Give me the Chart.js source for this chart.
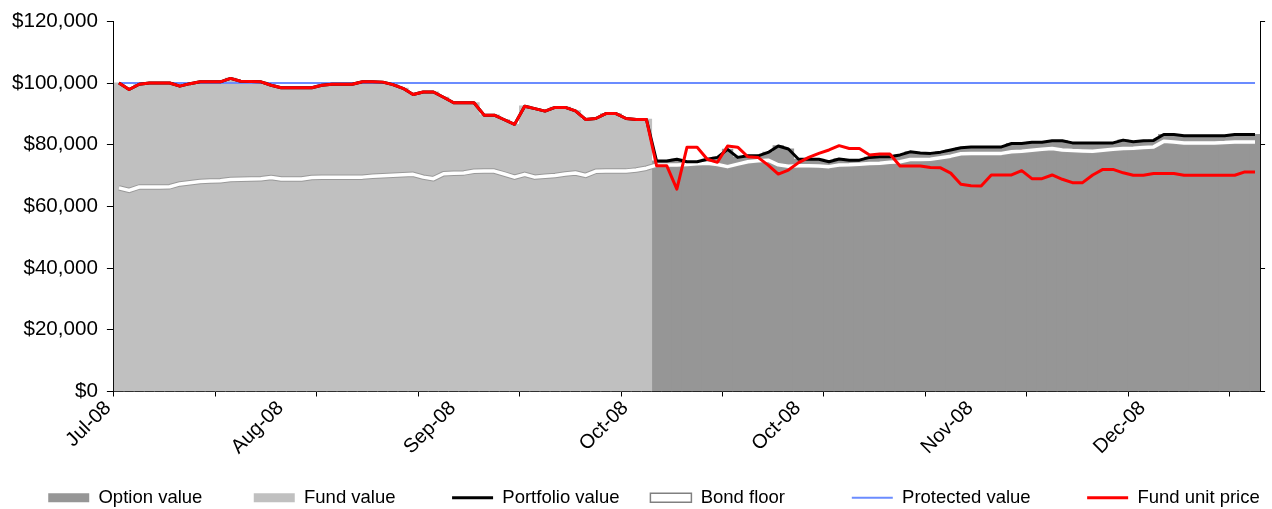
<!DOCTYPE html>
<html>
<head>
<meta charset="utf-8">
<script src="https://cdn.jsdelivr.net/npm/chart.js@4/dist/chart.umd.min.js"></script>
<style>
  html, body { margin: 0; padding: 0; background: #fff; }
  #wrap { width: 1272px; height: 509px; }
</style>
</head>
<body>
<div id="wrap"><canvas id="fundChart"></canvas></div>
<script>
// month labels shown every 17 points, tick marks every 10 points
const monthLabels = ['Jul-08', 'Aug-08', 'Sep-08', 'Oct-08', 'Oct-08', 'Nov-08', 'Dec-08'];
const labelEvery = 17;
const tickEvery = 10;

// fund held until the switch (first 53 points), option held afterwards (last 60 points)
const fundValue = [
  100000, 97900, 99600, 100000, 100000, 100000, 99000, 99800, 100400, 100400,
  100400, 101500, 100600, 100500, 100400, 99300, 98500, 98500, 98500, 98500,
  99300, 99600, 99600, 99600, 100400, 100400, 100300, 99500, 98300, 96300,
  97100, 97100, 95400, 93600, 93600, 93600, 89600, 89600, 88100, 86600,
  92500, 91700, 90900, 92100, 92100, 91000, 88200, 88500, 90100, 90100,
  88500, 88200, 88200
];
const optionValue = [
  74700, 74700, 75300, 74500, 74500, 75300, 75900, 78500, 75900, 76400,
  76400, 77500, 79600, 78600, 75300, 75300, 75300, 74500, 75400, 75000,
  75000, 75900, 76100, 76100, 76700, 77700, 77300, 77200, 77600, 78300,
  79000, 79300, 79300, 79300, 79300, 80400, 80400, 80800, 80800, 81300,
  81300, 80600, 80600, 80600, 80600, 80600, 81500, 81000, 81300, 81400,
  83300, 83300, 82900, 82900, 82900, 82900, 82900, 83300, 83300, 83300
];
const portfolioValue = [
  100000, 97900, 99600, 100000, 100000, 100000, 99000, 99800, 100400, 100400,
  100400, 101500, 100600, 100500, 100400, 99300, 98500, 98500, 98500, 98500,
  99300, 99600, 99600, 99600, 100400, 100400, 100300, 99500, 98300, 96300,
  97100, 97100, 95400, 93600, 93600, 93600, 89600, 89600, 88100, 86600,
  92500, 91700, 90900, 92100, 92100, 91000, 88200, 88500, 90100, 90100,
  88500, 88200, 88200,
  74700, 74700, 75300, 74500, 74500, 75300, 75900, 78500, 75900, 76400,
  76400, 77500, 79600, 78600, 75300, 75300, 75300, 74500, 75400, 75000,
  75000, 75900, 76100, 76100, 76700, 77700, 77300, 77200, 77600, 78300,
  79000, 79300, 79300, 79300, 79300, 80400, 80400, 80800, 80800, 81300,
  81300, 80600, 80600, 80600, 80600, 80600, 81500, 81000, 81300, 81400,
  83300, 83300, 82900, 82900, 82900, 82900, 82900, 83300, 83300, 83300
];
const bondFloor = [
  66000, 65200, 66300, 66300, 66300, 66400, 67300, 67700, 68100, 68250,
  68330, 68700, 68800, 68900, 69000, 69400, 68900, 68900, 68900, 69400,
  69500, 69500, 69500, 69500, 69500, 69800, 69950, 70100, 70250, 70400,
  69500, 69000, 70600, 70750, 70870, 71400, 71450, 71450, 70500, 69500,
  70400, 69500, 69800, 70060, 70500, 70850, 70060, 71400, 71450, 71450,
  71450, 71800, 72400,
  73400, 73400, 73400, 73600, 73800, 74000, 73600, 72900, 73700, 74500,
  74800, 75000, 73500, 73000, 73200, 73200, 73100, 72900, 73400, 73500,
  73700, 73900, 74000, 74300, 74500, 75200, 75200, 75300, 75800, 76300,
  77100, 77200, 77200, 77200, 77200, 77700, 77900, 78200, 78500, 78800,
  78300, 78100, 78000, 77900, 78200, 78500, 78800, 78900, 79100, 79300,
  81100, 80900, 80600, 80600, 80600, 80600, 80700, 80900, 80900, 80900
];
const protectedLevel = 100000;
// fund unit price, plotted on the secondary axis (0 to 1.2)
const unitPrice = [
  1.000, 0.979, 0.996, 1.000, 1.000, 1.000, 0.990, 0.998, 1.004, 1.004,
  1.004, 1.015, 1.006, 1.005, 1.004, 0.993, 0.985, 0.985, 0.985, 0.985,
  0.993, 0.996, 0.996, 0.996, 1.004, 1.004, 1.003, 0.995, 0.983, 0.963,
  0.971, 0.971, 0.954, 0.936, 0.936, 0.936, 0.896, 0.896, 0.881, 0.866,
  0.925, 0.917, 0.909, 0.921, 0.921, 0.910, 0.882, 0.885, 0.901, 0.901,
  0.885, 0.882, 0.882,
  0.732, 0.732, 0.656, 0.792, 0.792, 0.753, 0.743, 0.796, 0.792, 0.761,
  0.759, 0.734, 0.705, 0.718, 0.742, 0.759, 0.772, 0.783, 0.797, 0.788,
  0.788, 0.767, 0.770, 0.770, 0.731, 0.731, 0.731, 0.726, 0.725, 0.708,
  0.672, 0.667, 0.666, 0.702, 0.702, 0.702, 0.716, 0.690, 0.690, 0.702,
  0.688, 0.677, 0.677, 0.702, 0.720, 0.720, 0.709, 0.701, 0.701, 0.707,
  0.707, 0.707, 0.701, 0.701, 0.701, 0.701, 0.701, 0.701, 0.712, 0.712
];

const categories = portfolioValue.map((v, i) => i % labelEvery === 0 ? monthLabels[i / labelEvery] : '');
const fundSeries = fundValue.concat(optionValue.map(() => null));
const optionSeries = fundValue.map(() => null).concat(optionValue);
const protectedSeries = portfolioValue.map(() => protectedLevel);

Chart.defaults.font.family = '"Liberation Sans", Arial, sans-serif';
Chart.defaults.color = '#000';

// spaces after each legend text, to open the gaps between entries
const legendGaps = { 'Option value': 10, 'Fund value': 11, 'Portfolio value': 6, 'Bond floor': 13, 'Protected value': 11, 'Fund unit price': 0 };

// the legend in the picture sits a little right of centre
const legendShift = {
  id: 'legendShift',
  afterLayout(chart) {
    chart.legend.left += 15;
    chart.legend.right += 15;
  }
};

const ctx = document.getElementById('fundChart').getContext('2d');
const fundChart = new Chart(ctx, {
  type: 'bar',
  data: {
    labels: categories,
    datasets: [
      {
        label: 'Option value', data: optionSeries, backgroundColor: '#969696',
        grouped: false, barPercentage: 1, categoryPercentage: 1, inflateAmount: 0.6, order: 6
      },
      {
        label: 'Fund value', data: fundSeries, backgroundColor: '#c0c0c0',
        grouped: false, barPercentage: 1, categoryPercentage: 1, inflateAmount: 0.6, order: 5
      },
      {
        type: 'line', label: 'Portfolio value', data: portfolioValue,
        borderColor: '#000', borderWidth: 3, pointRadius: 0, borderJoinStyle: 'round', order: 1
      },
      {
        type: 'line', label: 'Bond floor', data: bondFloor,
        borderColor: '#fff', borderWidth: 3.5, pointRadius: 0, borderJoinStyle: 'round', order: 3
      },
      {
        type: 'line', label: 'Protected value', data: protectedSeries,
        borderColor: '#6b8cff', borderWidth: 2, pointRadius: 0, order: 2
      },
      {
        type: 'line', label: 'Fund unit price', data: unitPrice, yAxisID: 'y2',
        borderColor: '#ff0000', borderWidth: 3, pointRadius: 0, borderJoinStyle: 'round', order: 0
      },
      {
        // grey edge under the white bond floor line
        type: 'line', label: '', data: bondFloor,
        borderColor: '#999', borderWidth: 5.5, pointRadius: 0, borderJoinStyle: 'round', order: 4
      }
    ]
  },
  options: {
    responsive: true,
    maintainAspectRatio: false,
    animation: false,
    layout: { padding: { left: 3, right: -3, top: 21, bottom: -8 } },
    scales: {
      x: {
        offset: true,
        grid: {
          offset: true, drawOnChartArea: false, tickLength: 5,
          tickColor: c => c.index % tickEvery === 0 ? '#000' : 'rgba(0,0,0,0)'
        },
        border: { color: '#000' },
        ticks: { autoSkip: false, minRotation: 45, maxRotation: 45, labelOffset: -11, padding: 0, font: { size: 20 } },
        afterFit: scale => { scale.height = 97; }
      },
      y: {
        min: 0, max: 120000,
        ticks: { stepSize: 20000, padding: 9, font: { size: 20.6 }, callback: v => '$' + Number(v).toLocaleString('en-US') },
        grid: { drawOnChartArea: false, tickLength: 7, tickColor: '#000' },
        border: { color: '#000' }
      },
      y2: {
        position: 'right', min: 0, max: 1.2,
        ticks: { display: false, stepSize: 0.4 },
        grid: { drawOnChartArea: false, tickLength: 5, tickColor: '#000' },
        border: { color: '#000' }
      }
    },
    plugins: {
      tooltip: { enabled: false },
      legend: {
        position: 'bottom',
        labels: {
          usePointStyle: true, pointStyleWidth: 41, boxHeight: 9, padding: 0,
          font: { size: 18.5 },
          generateLabels: chart => {
            const sets = chart.data.datasets.filter(d => d.label);
            return sets.map(d => {
              const isBar = !d.type;
              const isBond = d.label === 'Bond floor';
              return {
                text: d.label + ' '.repeat(legendGaps[d.label]),
                datasetIndex: chart.data.datasets.indexOf(d),
                pointStyle: isBar || isBond ? 'rect' : 'line',
                fillStyle: isBar ? d.backgroundColor : '#fff',
                strokeStyle: isBond ? '#808080' : (isBar ? d.backgroundColor : d.borderColor),
                lineWidth: isBar ? 0 : (isBond ? 1.5 : d.borderWidth),
                fontColor: '#000',
                hidden: false
              };
            });
          }
        }
      }
    }
  },
  plugins: [legendShift]
});
</script>
</body>
</html>
